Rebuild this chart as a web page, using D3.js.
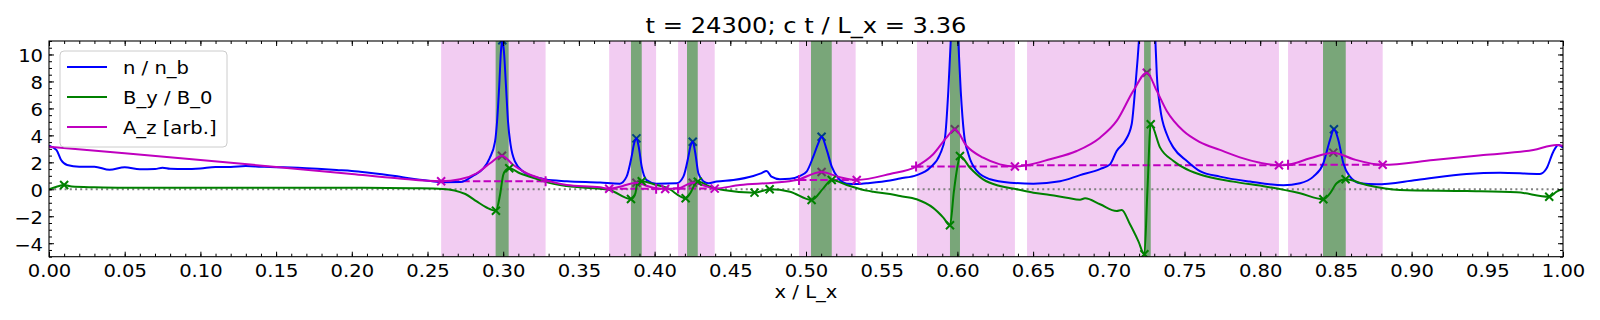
<!DOCTYPE html>
<html>
<head>
<meta charset="utf-8">
<script src="https://cdn.jsdelivr.net/npm/d3@7"></script>
<style>
  html, body { margin: 0; padding: 0; background: #fff; }
  svg { display: block; font-family: 'DejaVu Sans', sans-serif; }
</style>
</head>
<body>
<div id="chart"></div>
<script>
/* =========================================
   Current-sheet profile at t = 24300
   n / n_b, B_y / B_0 and A_z along x / L_x
   ========================================= */

// ---- Data ----
const nDensity = [
  [0.000, 3.23], [0.005, 2.9], [0.008, 2.17], [0.012, 1.8], [0.02, 1.68], [0.03, 1.68],
  [0.04, 1.45], [0.05, 1.63], [0.06, 1.48], [0.07, 1.5], [0.075, 1.6], [0.08, 1.52],
  [0.09, 1.5], [0.10, 1.55], [0.11, 1.66], [0.12, 1.66], [0.13, 1.72], [0.14, 1.68],
  [0.15, 1.64], [0.16, 1.62], [0.17, 1.57], [0.18, 1.5], [0.19, 1.43], [0.20, 1.36],
  [0.21, 1.25], [0.22, 1.12], [0.23, 0.96], [0.24, 0.78], [0.252, 0.62], [0.26, 0.53],
  [0.272, 0.54], [0.28, 1.0], [0.287, 1.56], [0.291, 2.3], [0.2946, 3.53], [0.2961, 5.27],
  [0.2974, 7.74], [0.2985, 10.2], [0.2994, 11.05], [0.3005, 10.2], [0.3018, 7.74],
  [0.3032, 5.0], [0.3049, 3.29], [0.3078, 2.05], [0.3133, 1.31], [0.3243, 0.82],
  [0.328, 0.72], [0.342, 0.6], [0.364, 0.5], [0.377, 0.42], [0.3815, 0.94], [0.3848, 2.42],
  [0.3865, 3.41], [0.388, 3.78], [0.3895, 3.16], [0.3915, 1.68], [0.3947, 0.69],
  [0.401, 0.42], [0.4146, 0.45], [0.419, 0.94], [0.4223, 2.42], [0.4236, 3.16],
  [0.4252, 3.53], [0.4269, 2.67], [0.4289, 1.19], [0.4322, 0.6], [0.4355, 0.45],
  [0.441, 0.57], [0.452, 0.69], [0.4652, 0.99], [0.4707, 1.2], [0.4739, 1.36],
  [0.4772, 0.94], [0.4828, 0.75], [0.4894, 0.78], [0.496, 1.0], [0.5004, 1.31],
  [0.5048, 2.42], [0.5081, 3.41], [0.5103, 3.9], [0.5137, 2.92], [0.517, 1.68],
  [0.5213, 0.82], [0.5269, 0.42], [0.5335, 0.39], [0.54, 0.45], [0.5555, 0.65],
  [0.562, 0.8], [0.5731, 1.05], [0.5819, 1.6], [0.5885, 2.6], [0.5918, 3.83], [0.594, 7.3],
  [0.5956, 11], [0.5985, 16], [0.6006, 11], [0.6022, 7.3], [0.6044, 4.08], [0.6073, 2.6],
  [0.6128, 1.36], [0.6216, 0.74], [0.6348, 0.49], [0.6502, 0.42], [0.6678, 0.6],
  [0.681, 1.05], [0.6942, 1.5], [0.7008, 1.85], [0.7052, 2.84], [0.7107, 3.58],
  [0.7151, 4.82], [0.7173, 7.3], [0.7191, 9.76], [0.7202, 11.5], [0.725, 20],
  [0.7306, 11.5], [0.7317, 8.53], [0.7339, 6.05], [0.7383, 4.08], [0.7427, 3.09],
  [0.7516, 2.1], [0.7602, 1.35], [0.7734, 0.94], [0.7932, 0.57], [0.8153, 0.3],
  [0.8263, 0.45], [0.8351, 0.94], [0.8417, 1.93], [0.8461, 3.66], [0.8487, 4.45],
  [0.8516, 3.66], [0.8549, 1.93], [0.8593, 0.94], [0.8659, 0.45], [0.8769, 0.37],
  [0.9033, 0.69], [0.9363, 1.14], [0.9584, 1.23], [0.9848, 1.14], [0.9892, 1.56],
  [0.9936, 2.79], [0.9969, 3.29], [1.0, 3.09]
];

const byField = [
  [0.000, 0.0], [0.005, 0.19], [0.01, 0.32], [0.015, 0.2], [0.03, 0.15], [0.05, 0.12],
  [0.10, 0.12], [0.15, 0.12], [0.20, 0.12], [0.24, 0.08], [0.26, 0.03], [0.275, -0.35],
  [0.2825, -0.9], [0.289, -1.35], [0.2952, -1.59], [0.2979, -0.42], [0.3, 1.06],
  [0.3018, 1.43], [0.304, 1.56], [0.311, 1.19], [0.3243, 0.69], [0.328, 0.55],
  [0.342, 0.24], [0.364, 0.04], [0.3702, -0.05], [0.3844, -0.72], [0.3873, -0.3],
  [0.3886, 0.45], [0.3915, 0.6], [0.401, 0.32], [0.408, 0.12], [0.4205, -0.67],
  [0.4235, -0.3], [0.4278, 0.55], [0.4285, 0.57], [0.4366, 0.19], [0.4454, -0.05],
  [0.466, -0.25], [0.476, 0.0], [0.4894, -0.18], [0.5037, -0.79], [0.5114, 0.07],
  [0.517, 0.69], [0.5269, 0.32], [0.54, -0.1], [0.5445, -0.18], [0.5555, -0.35],
  [0.5621, -0.5], [0.5731, -0.74], [0.584, -1.38], [0.5907, -2.1], [0.5951, -2.67],
  [0.5977, -0.13], [0.5999, 1.6], [0.6017, 2.47], [0.6083, 1.6], [0.617, 0.74],
  [0.6281, 0.24], [0.6391, 0.0], [0.6502, -0.25], [0.6612, -0.42], [0.6722, -0.62],
  [0.681, -0.77], [0.6843, -0.67], [0.6942, -1.11], [0.7052, -1.61], [0.7085, -1.54],
  [0.714, -2.6], [0.7195, -3.84], [0.7235, -4.82], [0.7255, -0.13], [0.7277, 4.82],
  [0.7339, 3.09], [0.7427, 2.1], [0.7537, 1.36], [0.7602, 1.1], [0.7822, 0.57],
  [0.8042, 0.19], [0.8263, -0.3], [0.8417, -0.74], [0.8461, -0.3], [0.8505, 0.45],
  [0.8564, 0.74], [0.8703, 0.32], [0.8923, -0.05], [0.9363, -0.13], [0.9694, -0.22],
  [0.9909, -0.55], [0.9958, -0.18], [1.0, 0.02]
];

const azPotential = [
  [0.000, 3.16], [0.05, 2.67], [0.10, 2.17], [0.15, 1.66], [0.20, 1.14], [0.23, 0.82],
  [0.259, 0.6], [0.2715, 0.74], [0.2825, 1.19], [0.2913, 1.93], [0.2992, 2.49],
  [0.3067, 1.8], [0.3155, 1.19], [0.3243, 0.82], [0.342, 0.32], [0.364, 0.15],
  [0.370, 0.04], [0.379, 0.25], [0.388, 0.49], [0.395, 0.25], [0.401, 0.07],
  [0.407, 0.02], [0.4155, 0.07], [0.4252, 0.49], [0.432, 0.3], [0.4397, 0.05],
  [0.4564, 0.32], [0.4784, 0.49], [0.4938, 0.69], [0.5103, 1.28], [0.5224, 0.89],
  [0.5335, 0.69], [0.5555, 1.14], [0.5727, 1.69], [0.584, 2.6], [0.5928, 3.83],
  [0.5983, 4.45], [0.6061, 3.21], [0.617, 2.34], [0.6281, 1.85], [0.638, 1.69],
  [0.6453, 1.78], [0.6612, 2.23], [0.6788, 2.84], [0.6942, 3.83], [0.7052, 5.07],
  [0.7162, 7.3], [0.7251, 8.65], [0.7317, 7.3], [0.7383, 5.81], [0.7493, 4.32],
  [0.7602, 3.5], [0.7734, 2.92], [0.7866, 2.37], [0.7999, 1.97], [0.8124, 1.78],
  [0.8184, 1.82], [0.8329, 2.3], [0.8483, 2.72], [0.8616, 2.23], [0.8809, 1.82],
  [0.9144, 2.17], [0.9474, 2.54], [0.9804, 2.92], [0.9958, 3.29], [1.0, 3.23]
];

// islands (pink) and X-line cores (green)
const islandSpans = [
  [0.259, 0.328], [0.370, 0.401], [0.4155, 0.4397], [0.4954, 0.5328],
  [0.5733, 0.638], [0.646, 0.8124], [0.8184, 0.8809]
];
const coreSpans = [
  [0.295, 0.3036], [0.3844, 0.3915], [0.4214, 0.4285], [0.5033, 0.517],
  [0.5951, 0.6017], [0.7233, 0.7277], [0.8415, 0.8565]
];
// separatrix levels of A_z: [x start, x end, level]
const azLevels = [
  [0.259, 0.328, 0.6], [0.370, 0.401, 0.04], [0.4155, 0.4397, 0.05], [0.4954, 0.5335, 0.69],
  [0.5727, 0.638, 1.69], [0.6453, 0.8124, 1.78], [0.8184, 0.8809, 1.82]
];

const nPeaks = [[0.2994, 11.05], [0.388, 3.78], [0.4252, 3.53], [0.5103, 3.9], [0.5985, 16], [0.725, 20], [0.8487, 4.45]];
const azPeaks = [[0.2992, 2.49], [0.388, 0.49], [0.4252, 0.49], [0.5103, 1.28], [0.5983, 4.45], [0.7251, 8.65], [0.8483, 2.72]];
const azMins = [[0.259, 0.6], [0.370, 0.04], [0.407, 0.02], [0.4397, 0.05], [0.5335, 0.69], [0.638, 1.69], [0.8124, 1.78], [0.8809, 1.82]];
const azEdges = [[0.328, 0.6], [0.401, 0.04], [0.4155, 0.05], [0.4954, 0.69], [0.5727, 1.69], [0.6453, 1.78], [0.8184, 1.82]];
const byMarks = [
  [0.01, 0.32], [0.2952, -1.59], [0.304, 1.56], [0.3844, -0.72], [0.3915, 0.6], [0.4205, -0.67],
  [0.4285, 0.57], [0.466, -0.25], [0.476, 0.0], [0.5037, -0.79], [0.517, 0.69], [0.5951, -2.67],
  [0.6017, 2.47], [0.7235, -4.82], [0.7277, 4.82], [0.8417, -0.74], [0.8564, 0.74], [0.9909, -0.55]
];

const xTicks = d3.range(0, 1.0001, 0.05);
const xMinor = d3.range(0, 1.0001, 0.01);
const yTicks = [-4, -2, 0, 2, 4, 6, 8, 10];
const yMinor = d3.range(-5, 11.001, 0.5);
const legendItems = [
  { label: 'n / n_b', color: '#0000ff' },
  { label: 'B_y / B_0', color: '#008000' },
  { label: 'A_z [arb.]', color: '#bf00bf' }
];

// ---- Layout ----
const W = 1600, H = 320;
const margin = { top: 41, right: 37, bottom: 63.3, left: 49 };
const innerWidth = W - margin.left - margin.right;
const innerHeight = H - margin.top - margin.bottom;
const widen = 1.15;   // glyphs in the picture are wider than tall
const fontSm = 17;    // ticks, axis label, legend
const fontLg = 21;    // title

const svg = d3.select('#chart').append('svg').attr('width', W).attr('height', H);
const g = svg.append('g').attr('transform', `translate(${margin.left},${margin.top})`);

svg.append('defs').append('clipPath').attr('id', 'plotClip')
  .append('rect').attr('width', innerWidth).attr('height', innerHeight);

const x = d3.scaleLinear().domain([0, 1]).range([0, innerWidth]);
const y = d3.scaleLinear().domain([-5, 11]).range([innerHeight, 0]);

// stretch text horizontally to the picture's proportions
function stretch(sel) {
  sel.each(function () {
    const len = this.getComputedTextLength();
    if (len > 0) {
      d3.select(this).attr('textLength', len * widen).attr('lengthAdjust', 'spacingAndGlyphs');
    }
  });
}

const plot = g.append('g').attr('clip-path', 'url(#plotClip)');

// ---- Shaded spans ----
plot.append('g').selectAll('rect').data(islandSpans).join('rect')
  .attr('x', d => x(d[0])).attr('width', d => x(d[1]) - x(d[0]))
  .attr('y', 0).attr('height', innerHeight)
  .attr('fill', 'rgba(191,0,191,0.2)');

// ---- Markers (under the green cores) ----
function cross(sel, pts, color) {
  sel.append('g').selectAll('path').data(pts).join('path')
    .attr('transform', d => `translate(${x(d[0])},${y(d[1])})`)
    .attr('d', 'M-4,-4L4,4M-4,4L4,-4')
    .attr('fill', 'none').attr('stroke', color).attr('stroke-width', 2);
}
function plus(sel, pts, color) {
  sel.append('g').selectAll('path').data(pts).join('path')
    .attr('transform', d => `translate(${x(d[0])},${y(d[1])})`)
    .attr('d', 'M-5,0L5,0M0,-5L0,5')
    .attr('fill', 'none').attr('stroke', color).attr('stroke-width', 2);
}
cross(plot, nPeaks, '#0000ff');
cross(plot, azPeaks, '#bf00bf');

plot.append('g').selectAll('rect').data(coreSpans).join('rect')
  .attr('x', d => x(d[0])).attr('width', d => x(d[1]) - x(d[0]))
  .attr('y', 0).attr('height', innerHeight)
  .attr('fill', 'rgba(0,128,0,0.5)');

// ---- Zero line ----
plot.append('line')
  .attr('x1', 0).attr('x2', innerWidth).attr('y1', y(0)).attr('y2', y(0))
  .attr('stroke', '#808080').attr('stroke-width', 2).attr('stroke-dasharray', '2,3.2');

// ---- Separatrix levels ----
plot.append('g').selectAll('line').data(azLevels).join('line')
  .attr('x1', d => x(d[0])).attr('x2', d => x(d[1]))
  .attr('y1', d => y(d[2])).attr('y2', d => y(d[2]))
  .attr('stroke', '#bf00bf').attr('stroke-width', 2).attr('stroke-dasharray', '7.4,3.2');

// ---- Curves ----
const line = d3.line().x(d => x(d[0])).y(d => y(d[1])).curve(d3.curveMonotoneX);
[[nDensity, '#0000ff'], [byField, '#008000'], [azPotential, '#bf00bf']].forEach(([data, color]) => {
  plot.append('path').datum(data)
    .attr('d', line)
    .attr('fill', 'none').attr('stroke', color)
    .attr('stroke-width', 2).attr('stroke-linejoin', 'round');
});

cross(plot, byMarks, '#008000');
cross(plot, azMins, '#bf00bf');
plus(plot, azEdges, '#bf00bf');

// ---- Axes (ticks pointing inwards on all four sides) ----
function styleAxis(sel) {
  sel.select('.domain').remove();
  sel.selectAll('line').attr('stroke', '#000').attr('stroke-width', 1);
  sel.selectAll('text').attr('font-family', 'DejaVu Sans').attr('font-size', fontSm + 'px').attr('fill', '#000');
}

g.append('g').attr('transform', `translate(0,${innerHeight})`)
  .call(d3.axisBottom(x).tickValues(xMinor).tickSize(-3).tickFormat(''))
  .call(styleAxis);
g.append('g').attr('transform', `translate(0,${innerHeight})`)
  .call(d3.axisBottom(x).tickValues(xTicks).tickSize(-5).tickFormat(d3.format('.2f')))
  .call(styleAxis)
  .call(a => a.selectAll('text').attr('y', 20).attr('dy', 0).call(stretch));
g.append('g')
  .call(d3.axisTop(x).tickValues(xMinor).tickSize(-3).tickFormat(''))
  .call(styleAxis);
g.append('g')
  .call(d3.axisTop(x).tickValues(xTicks).tickSize(-5).tickFormat(''))
  .call(styleAxis);

g.append('g')
  .call(d3.axisLeft(y).tickValues(yMinor).tickSize(-3).tickFormat(''))
  .call(styleAxis);
g.append('g')
  .call(d3.axisLeft(y).tickValues(yTicks).tickSize(-5).tickFormat(d3.format('d')))
  .call(styleAxis)
  .call(a => a.selectAll('text').attr('x', -6).attr('y', 7).attr('dy', 0).call(stretch));
g.append('g').attr('transform', `translate(${innerWidth},0)`)
  .call(d3.axisRight(y).tickValues(yMinor).tickSize(-3).tickFormat(''))
  .call(styleAxis);
g.append('g').attr('transform', `translate(${innerWidth},0)`)
  .call(d3.axisRight(y).tickValues(yTicks).tickSize(-5).tickFormat(''))
  .call(styleAxis);

// frame
g.append('rect')
  .attr('width', innerWidth).attr('height', innerHeight)
  .attr('fill', 'none').attr('stroke', '#000').attr('stroke-width', 1.1);

// ---- Title and axis label ----
svg.append('text')
  .attr('x', margin.left + innerWidth / 2).attr('y', 32.5)
  .attr('text-anchor', 'middle')
  .attr('font-size', fontLg + 'px')
  .text('t = 24300; c t / L_x = 3.36')
  .call(stretch);

svg.append('text')
  .attr('x', margin.left + innerWidth / 2).attr('y', 298)
  .attr('text-anchor', 'middle')
  .attr('font-size', fontSm + 'px')
  .text('x / L_x')
  .call(stretch);

// ---- Legend ----
const legend = g.append('g').attr('transform', 'translate(11,10)');
legend.append('rect')
  .attr('width', 167).attr('height', 96).attr('rx', 4)
  .attr('fill', 'rgba(255,255,255,0.8)').attr('stroke', '#cccccc').attr('stroke-width', 1);
const rows = legend.selectAll('g.row').data(legendItems).join('g')
  .attr('class', 'row')
  .attr('transform', (d, i) => `translate(0,${16 + i * 30})`);
rows.append('line')
  .attr('x1', 7).attr('x2', 47)
  .attr('stroke', d => d.color).attr('stroke-width', 2);
rows.append('text')
  .attr('x', 63).attr('y', 7)
  .attr('font-size', fontSm + 'px')
  .text(d => d.label)
  .call(stretch);
</script>
</body>
</html>
